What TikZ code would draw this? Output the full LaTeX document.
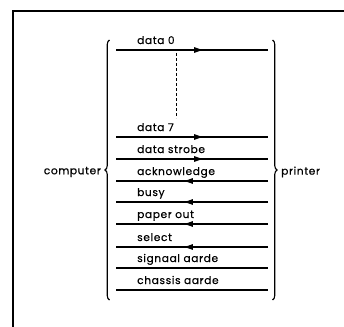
\documentclass[tikz,border=0pt]{standalone}
\usepackage{fontspec}
\setmainfont{Poppins}[LetterSpace=6,FakeBold=0.5]
\usetikzlibrary{decorations.pathreplacing,decorations.markings,arrows.meta}
\begin{document}
\begin{tikzpicture}[x=1pt,y=-1pt,
  wire/.style={line width=1.1pt},
  lbl/.style={anchor=base west,inner sep=0pt,font=\fontsize{10.6}{12}\selectfont},
  side/.style={inner sep=0pt,font=\fontsize{10.6}{12}\selectfont},
  tip/.style={wire,postaction={decorate},decoration={markings,mark=at position #1 with {\arrow{Latex[length=10pt,width=6pt]}}}},
  bracestyle/.style={line width=1.1pt,decorate,decoration={brace,amplitude=4.5pt}}]
\useasboundingbox (0,0) rectangle (344,326);
% frame
\draw[line width=1.3pt] (13,340) -- (13,11) -- (350,11);
% wire end coordinates
\foreach \n/\y in {1/50,2/137,3/159,4/181,5/202,6/224,7/247,8/268,9/290}{
  \coordinate (L\n) at (116,\y);
  \coordinate (R\n) at (268,\y);
}
% labels
\node[lbl] (t1) at (137,44) {data 0};
\node[lbl] (t2) at (137,131) {data 7};
\node[lbl] (t3) at (137,153) {data strobe};
\node[lbl] (t4) at (137,175) {acknowledge};
\node[lbl] (t5) at (137,196) {busy};
\node[lbl] (t6) at (137,218) {paper out};
\node[lbl] (t7) at (137,241) {select};
\node[lbl] (t8) at (137,262) {signaal aarde};
\node[lbl] (t9) at (137,284) {chassis aarde};
% wires computer -> printer
\draw[tip=0.58] (L1) -- (R1);
\draw[tip=0.58] (L2) -- (R2);
\draw[tip=0.58] (L3) -- (R3);
% wires printer -> computer
\draw[tip=0.56] (R4) -- (L4);
\draw[tip=0.56] (R5) -- (L5);
\draw[tip=0.56] (R6) -- (L6);
\draw[tip=0.56] (R7) -- (L7);
% ground wires
\draw[wire] (L8) -- (R8);
\draw[wire] (L9) -- (R9);
% dotted continuation
\coordinate (d0) at (176,53);
\coordinate (d7) at (176,118);
\draw[line width=0.7pt,dash pattern=on 3pt off 2pt] (d0) -- (d7);
% braces
\coordinate (lb1) at (109.5,300);
\coordinate (lb2) at (109.5,40);
\coordinate (rb1) at (272.5,40);
\coordinate (rb2) at (272.5,300);
\draw[bracestyle] (lb1) -- (lb2);
\draw[bracestyle] (rb1) -- (rb2);
\node[side,anchor=east] (comp) at (101,172) {computer};
\node[side,anchor=west] (prn) at (281,172) {printer};
\end{tikzpicture}
\end{document}
